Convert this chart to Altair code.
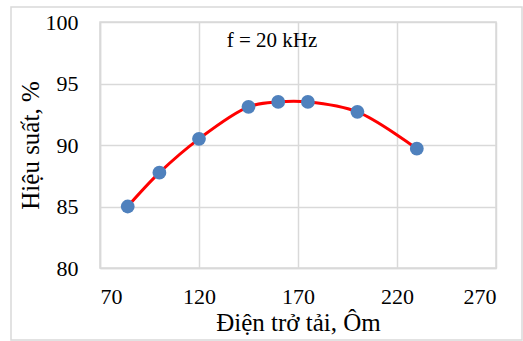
import altair as alt
import pandas as pd

resistance = [84, 100, 120, 145, 160, 175, 200, 230]
efficiency = [85.0, 87.75, 90.5, 93.1, 93.5, 93.5, 92.7, 89.7]
x_ticks = [70, 120, 170, 220, 270]
y_ticks = [80, 85, 90, 95, 100]

df = pd.DataFrame({"r": resistance, "eff": efficiency})

FONT = "Liberation Serif"

x_enc = alt.X("r:Q", scale=alt.Scale(domain=[70, 270], nice=False, zero=False),
              axis=alt.Axis(values=x_ticks, title="Điện trở tải, Ôm"))
y_enc = alt.Y("eff:Q", scale=alt.Scale(domain=[80, 100], nice=False, zero=False),
              axis=alt.Axis(values=y_ticks, title="Hiệu suất, %"))

line = alt.Chart(df).mark_line(color="#ff0000", strokeWidth=3, interpolate="catmull-rom").encode(
    x=x_enc, y=y_enc)
points = alt.Chart(df).mark_circle(color="#4f81bd", size=190, opacity=1).encode(
    x="r:Q", y="eff:Q")

label = alt.Chart(pd.DataFrame({"t": ["f = 20 kHz"]})).mark_text(
    font=FONT, fontSize=21, color="black", align="center", baseline="middle"
).encode(text="t:N", x=alt.value(172), y=alt.value(19))

frame = alt.Chart(pd.DataFrame({"a": [0]})).mark_rect(
    fill=None, stroke="#d9d9d9", strokeWidth=1.5, clip=False
).encode(x=alt.value(-89), x2=alt.value(422), y=alt.value(-15), y2=alt.value(318))

chart = alt.layer(frame, line, points, label).properties(
    width=396, height=246,
    autosize=alt.AutoSizeParams(type="none"),
    padding={"left": 100, "top": 22, "right": 27, "bottom": 73},
).configure_view(stroke="#d9d9d9", strokeWidth=1.5).configure_axis(
    grid=True, gridColor="#d9d9d9", gridWidth=1.5,
    domainColor="#d9d9d9", domainWidth=1.5,
    ticks=False, labelFont=FONT, labelFontSize=22, labelColor="black",
    titleFont=FONT, titleFontSize=25, titleColor="black", titleFontWeight="normal",
).configure_axisX(labelPadding=18, titlePadding=3).configure_axisY(
    labelPadding=22, titlePadding=2)

chart.save("out.html", embed_options={"renderer": "svg", "actions": False})
